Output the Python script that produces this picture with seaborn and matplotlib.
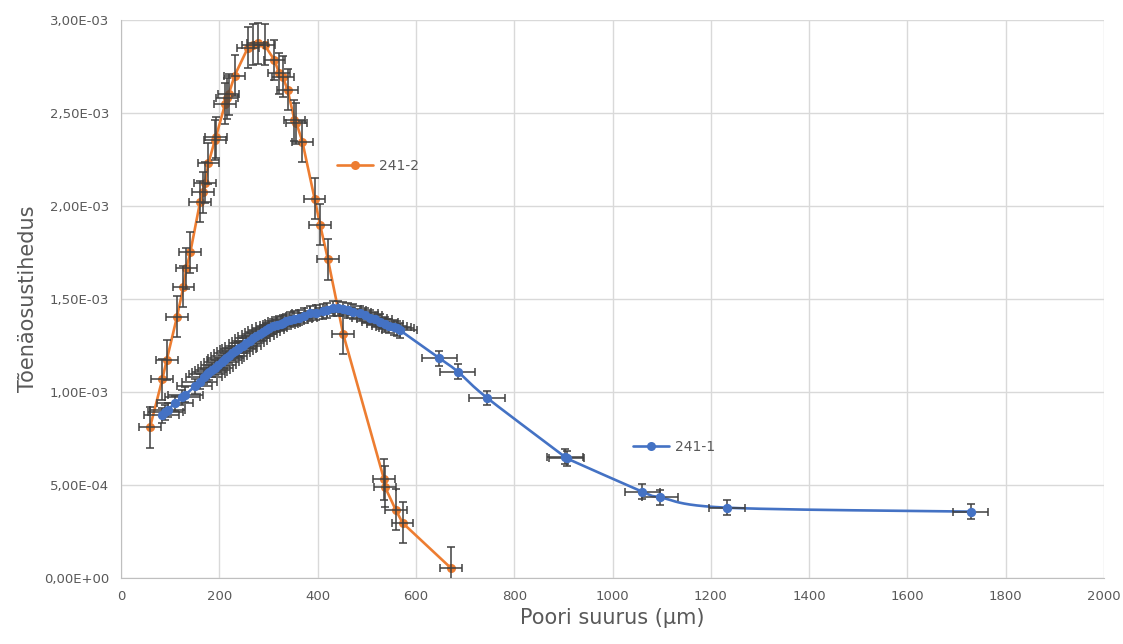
import numpy as np
import pandas as pd
import matplotlib
matplotlib.use("Agg")
import matplotlib.pyplot as plt
import seaborn as sns
from matplotlib.lines import Line2D
from matplotlib.ticker import FuncFormatter

# 241-2 (orange)
x_2412 = [59, 84, 93, 114, 127, 133, 141, 161, 167, 171, 178, 191, 193, 212, 216, 219, 231,
          258, 268, 278, 292, 312, 322, 329, 339, 353, 357, 369, 394, 405, 421, 452,
          535, 537, 559, 573, 671]
y_2412 = [0.81, 1.068, 1.172, 1.405, 1.566, 1.665, 1.751, 2.023, 2.074, 2.125, 2.23, 2.355, 2.37,
          2.55, 2.58, 2.60, 2.70, 2.85, 2.866, 2.875, 2.866, 2.785, 2.713, 2.695, 2.624, 2.462,
          2.445, 2.346, 2.038, 1.90, 1.713, 1.312, 0.532, 0.49, 0.366, 0.296, 0.054]

# 241-1 (blue)
x_2411 = [83, 90, 95, 110, 125, 131, 150, 160, 169, 175, 180, 186, 192, 198, 205, 210, 214,
          220, 226, 232, 238, 241, 248, 255, 262, 268, 275, 282, 288, 295, 302, 310, 318,
          325, 329, 336, 344, 352, 363, 372, 384, 397, 410, 420, 431, 441, 452, 462, 472,
          486, 496, 506, 516, 527, 537, 546, 555, 561, 567,
          648, 685, 745, 903, 907, 1061, 1097, 1233, 1729]
y_2411 = [0.876, 0.89, 0.903, 0.94, 0.971, 0.985, 1.03, 1.055, 1.082, 1.095, 1.105, 1.118,
          1.13, 1.145, 1.16, 1.17, 1.181, 1.195, 1.21, 1.222, 1.23, 1.235, 1.25, 1.262, 1.276,
          1.289, 1.30, 1.312, 1.322, 1.333, 1.343, 1.353, 1.362, 1.368, 1.373, 1.38, 1.388,
          1.395, 1.40, 1.41, 1.423, 1.426, 1.435, 1.44, 1.45, 1.45, 1.446, 1.44, 1.432,
          1.423, 1.412, 1.40, 1.39, 1.378, 1.365, 1.355, 1.347, 1.342, 1.333,
          1.181, 1.11, 0.968, 0.652, 0.643, 0.464, 0.434, 0.378, 0.357]

xerr_2412, yerr_2412 = 22, 0.11e-3
xerr_2411, yerr_2411 = 36, 0.04e-3

ORANGE = "#ED7D31"
BLUE = "#4472C4"
GREY = "#595959"

df2 = pd.DataFrame({"x": x_2412, "y": np.array(y_2412) * 1e-3})
df1 = pd.DataFrame({"x": x_2411, "y": np.array(y_2411) * 1e-3})


def catmull(xs, ys, n=12):
    # smooth line like excel's "smoothed line" option
    p = np.column_stack([np.asarray(xs, float) / 2000, np.asarray(ys, float) / 3e-3])
    p = np.vstack([p[0], p, p[-1]])
    out = []
    for i in range(1, len(p) - 2):
        p0, p1, p2, p3 = p[i - 1], p[i], p[i + 1], p[i + 2]
        t = np.linspace(0, 1, n, endpoint=False)[:, None]
        c = 0.5 * ((2 * p1) + (-p0 + p2) * t + (2 * p0 - 5 * p1 + 4 * p2 - p3) * t ** 2
                   + (-p0 + 3 * p1 - 3 * p2 + p3) * t ** 3)
        out.append(c)
    out.append(p[-2][None, :])
    out = np.vstack(out)
    return out[:, 0] * 2000, out[:, 1] * 3e-3


sx, sy = catmull(df1.x, df1.y)
smooth = pd.DataFrame({"x": sx, "y": sy})

sns.set_style("white")
fig = plt.figure(figsize=(11.23, 6.44), dpi=100)
ax = fig.add_axes([121 / 1123, 1 - 578 / 644, (1104 - 121) / 1123, (578 - 20) / 644])

ax.grid(True, color="#d9d9d9", linewidth=1)
ax.set_axisbelow(True)

sns.lineplot(data=df2, x="x", y="y", sort=False, estimator=None, color=ORANGE,
             linewidth=1.9, marker="o", markersize=6.5, markeredgewidth=0, ax=ax, zorder=3)
ax.errorbar(df2.x, df2.y, xerr=xerr_2412, yerr=yerr_2412, fmt="none", ecolor="#404040",
            elinewidth=1.1, capsize=3, capthick=1.1, zorder=4)

sns.lineplot(data=smooth, x="x", y="y", sort=False, estimator=None, color=BLUE,
             linewidth=1.9, ax=ax, zorder=5)
sns.scatterplot(data=df1, x="x", y="y", color=BLUE, s=45, linewidth=0, ax=ax, zorder=6)
ax.errorbar(df1.x, df1.y, xerr=xerr_2411, yerr=yerr_2411, fmt="none", ecolor="#404040",
            elinewidth=1.1, capsize=3, capthick=1.1, zorder=5.5)

ax.set_xlim(0, 2000)
ax.set_ylim(0, 3e-3)
ax.set_xticks(range(0, 2001, 200))
ax.set_yticks(np.arange(0, 3.01e-3, 0.5e-3))
ax.yaxis.set_major_formatter(FuncFormatter(lambda v, p: f"{v:.2E}".replace(".", ",")))

for s in ["top", "right"]:
    ax.spines[s].set_visible(False)
for s in ["left", "bottom"]:
    ax.spines[s].set_color("#bfbfbf")
ax.tick_params(axis="both", colors="#bfbfbf", labelcolor=GREY, labelsize=9.5,
               length=5, width=1, direction="out")

ax.set_xlabel("Poori suurus (µm)", fontsize=15, color=GREY, labelpad=4)
ax.set_ylabel("Tõenäosustihedus", fontsize=15, color=GREY, labelpad=4)

h2 = Line2D([], [], color=ORANGE, lw=1.9, marker="o", markersize=6.5, markeredgewidth=0)
h1 = Line2D([], [], color=BLUE, lw=1.9, marker="o", markersize=6.5, markeredgewidth=0)
leg2 = ax.legend([h2], ["241-2"], loc="center left", bbox_to_anchor=(330 / 1123, 1 - 166 / 644),
                 bbox_transform=fig.transFigure, frameon=False, borderpad=0, handlelength=2.6,
                 handletextpad=0.4, fontsize=10, labelcolor=GREY)
ax.add_artist(leg2)
ax.legend([h1], ["241-1"], loc="center left", bbox_to_anchor=(626 / 1123, 1 - 447 / 644),
          bbox_transform=fig.transFigure, frameon=False, borderpad=0, handlelength=2.6,
          handletextpad=0.4, fontsize=10, labelcolor=GREY)

fig.savefig("out.png", dpi=100)
